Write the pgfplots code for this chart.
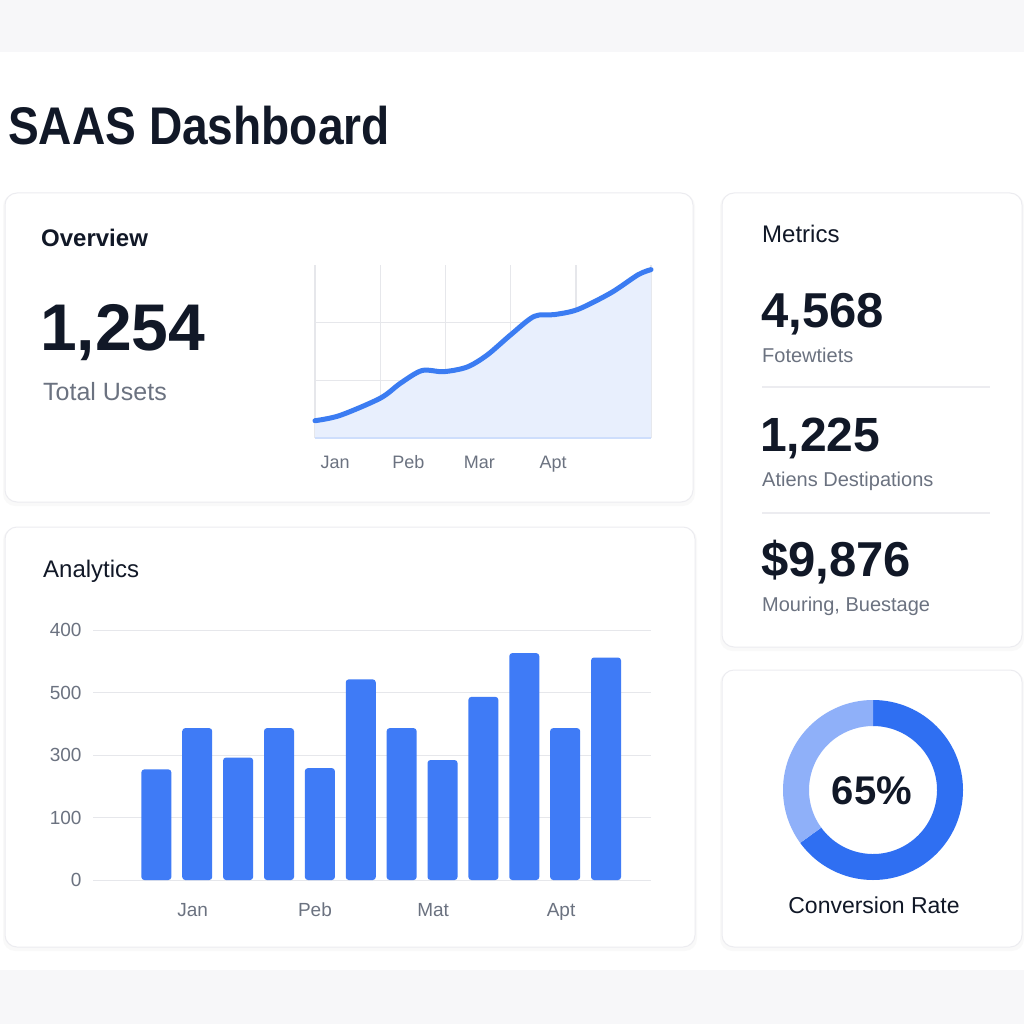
\documentclass[border=0pt]{standalone}
\usepackage{pgfplots}
\pgfplotsset{compat=1.18}
\usepackage{fontspec}
\setmainfont{Liberation Sans}
\definecolor{ink}{HTML}{111827}
\definecolor{muted}{HTML}{6B7280}
\definecolor{barblue}{HTML}{3F7BF6}
\definecolor{lineblue}{HTML}{3B7CF2}
\definecolor{areablue}{HTML}{E8EFFD}
\definecolor{gridc}{HTML}{E6E7EB}
\definecolor{cardline}{HTML}{ECECF0}
\definecolor{ringdark}{HTML}{2F6FF2}
\definecolor{ringlight}{HTML}{8FB0F9}
\definecolor{strip}{HTML}{F7F7F9}
\begin{document}
\begin{tikzpicture}[x=1pt,y=-1pt]
\fill[white] (0,0) rectangle (1024,1024);
\fill[strip] (0,0) rectangle (1024,52);
\fill[strip] (0,970) rectangle (1024,1024);
% cards
\foreach \a/\b/\c/\d in {5/193/693/502, 5/527/695/947, 722/193/1022/647, 722/670/1022/947}{
  \fill[black, opacity=0.025, rounded corners=12pt] (\a-2,\b+1) rectangle (\c+2,\d+4);
  \draw[cardline, fill=white, line width=1pt, rounded corners=12pt] (\a,\b) rectangle (\c,\d);
}
% title
\node[anchor=base west, inner sep=0, text=ink] at (8,145)
  {\fontsize{53}{60}\selectfont\scalebox{0.87}[1]{\bfseries SAAS Dashboard}};
% overview card
\node[anchor=base west, inner sep=0, text=ink] at (41,246) {\fontsize{24}{28}\selectfont\bfseries Overview};
\node[anchor=base west, inner sep=0, text=ink] at (40,350) {\fontsize{66}{70}\selectfont\bfseries 1,254};
\node[anchor=base west, inner sep=0, text=muted] at (43,400) {\fontsize{25}{28}\selectfont Total Usets};

\begin{axis}[at={(315pt,-438pt)}, anchor=south west, scale only axis,
  width=336pt, height=173pt,
  xmin=0, xmax=5.15, ymin=0, ymax=3, clip=false,
  axis line style={draw=none}, tick style={draw=none},
  xtick={0,1,2,3,4,5.15}, xticklabels={}, ytick={0,1,2}, yticklabels={},
  grid=major, major grid style={gridc, line width=1.3pt},
  extra x ticks={0.31,1.43,2.52,3.65}, extra x tick labels={Jan,Peb,Mar,Apt},
  extra x tick style={grid=none, tick style={draw=none},
    tick label style={font=\fontsize{18}{20}\selectfont, text=muted,
      text height=13pt, text depth=4pt, yshift=-14pt}},
  /pgf/number format/assume math mode=true]
\addplot[draw=none, fill=areablue, smooth] coordinates {
 (0,0.30) (0.38,0.39) (1.0,0.69) (1.31,0.95) (1.64,1.17) (1.97,1.15) (2.33,1.23)
 (2.64,1.44) (3.0,1.79) (3.36,2.11) (3.67,2.14) (4.03,2.23) (4.54,2.52) (4.95,2.83) (5.15,2.92)} \closedcycle;
\draw[color=lineblue!25, line width=1.5pt] (axis cs:0,0) -- (axis cs:5.15,0);
\addplot[lineblue, line width=5pt, smooth, line cap=round] coordinates {
 (0,0.30) (0.38,0.39) (1.0,0.69) (1.31,0.95) (1.64,1.17) (1.97,1.15) (2.33,1.23)
 (2.64,1.44) (3.0,1.79) (3.36,2.11) (3.67,2.14) (4.03,2.23) (4.54,2.52) (4.95,2.83) (5.15,2.92)};
\end{axis}

% analytics card
\node[anchor=base west, inner sep=0, text=ink] at (43,577) {\fontsize{24}{28}\selectfont Analytics};
\begin{axis}[at={(93pt,-880pt)}, anchor=south west, scale only axis,
  width=558pt, height=250pt,
  xmin=-0.55, xmax=13.10, ymin=0, ymax=400,
  axis line style={draw=none}, tick style={draw=none},
  ytick={0,100,200,300,400}, yticklabels={0,100,300,500,400},
  ymajorgrids, major grid style={gridc, line width=1pt},
  xtick={1.89,4.88,7.77,10.9}, xticklabels={Jan,Peb,Mat,Apt},
  ticklabel style={font=\fontsize{19}{21}\selectfont, text=muted},
  yticklabel style={xshift=-8pt},
  xticklabel style={text height=13.5pt, text depth=4pt, yshift=-19pt},
  /pgf/number format/assume math mode=true]
\addplot[ybar, bar width=30pt, bar shift=0pt, fill=barblue, draw=none, rounded corners=3pt] coordinates {
 (1,177) (2,243) (3,196) (4,243) (5,179) (6,321) (7,243) (8,192) (9,293) (10,363) (11,243) (12,356)};
\end{axis}

% metrics card
\node[anchor=base west, inner sep=0, text=ink] at (762,243) {\fontsize{24}{28}\selectfont Metrics};
\node[anchor=base west, inner sep=0, text=ink] at (761,327) {\fontsize{49}{52}\selectfont\bfseries 4,568};
\node[anchor=base west, inner sep=0, text=muted] at (762,362) {\fontsize{20}{24}\selectfont Fotewtiets};
\draw[cardline, line width=1.2pt] (762,387) -- (990,387);
\node[anchor=base west, inner sep=0, text=ink] at (760,451) {\fontsize{48}{52}\selectfont\bfseries 1,225};
\node[anchor=base west, inner sep=0, text=muted] at (762,486) {\fontsize{20}{24}\selectfont Atiens Destipations};
\draw[cardline, line width=1.2pt] (762,513) -- (990,513);
\node[anchor=base west, inner sep=0, text=ink] at (761,576) {\fontsize{49}{52}\selectfont\bfseries \$9,876};
\node[anchor=base west, inner sep=0, text=muted] at (762,611) {\fontsize{20}{24}\selectfont Mouring, Buestage};

% donut card
\def\conv{65}
\pgfmathsetmacro{\endang}{90-3.6*\conv}
\begin{scope}[shift={(873,790)}, yscale=-1]
  \fill[ringdark] (90:90) arc[start angle=90, end angle=\endang, radius=90]
     -- (\endang:64) arc[start angle=\endang, end angle=90, radius=64] -- cycle;
  \fill[ringlight] (90:90) arc[start angle=90, end angle=\endang+360, radius=90]
     -- (\endang+360:64) arc[start angle=\endang+360, end angle=90, radius=64] -- cycle;
\end{scope}
\node[anchor=base, inner sep=0, text=ink] at (872,804) {\fontsize{40}{44}\selectfont\bfseries 65\%};
\node[anchor=base, inner sep=0, text=ink] at (874,913) {\fontsize{23}{26}\selectfont Conversion Rate};
\end{tikzpicture}
\end{document}
